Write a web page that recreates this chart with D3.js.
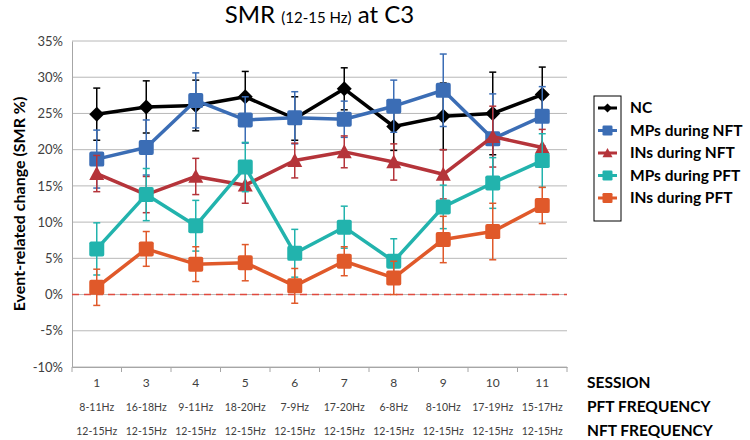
<!DOCTYPE html>
<html>
<head>
<meta charset="utf-8">
<script src="https://cdn.jsdelivr.net/npm/d3@7"></script>
<style>
  body { margin: 0; background: #fff; }
  svg { font-family: Lato, "Open Sans", sans-serif; }
</style>
</head>
<body>
<svg id="chart" width="750" height="440"></svg>
<script>
// data
const sessions = ["1", "3", "4", "5", "6", "7", "8", "9", "10", "11"];
const pftFreq = ["8-11Hz", "16-18Hz", "9-11Hz", "18-20Hz", "7-9Hz", "17-20Hz", "6-8Hz", "8-10Hz", "17-19Hz", "15-17Hz"];
const nftFreq = ["12-15Hz", "12-15Hz", "12-15Hz", "12-15Hz", "12-15Hz", "12-15Hz", "12-15Hz", "12-15Hz", "12-15Hz", "12-15Hz"];
const yTicks = [-10, -5, 0, 5, 10, 15, 20, 25, 30, 35];

const nc = [24.9, 25.9, 26.1, 27.3, 24.3, 28.4, 23.2, 24.6, 25.0, 27.6];
const ncErr = [3.6, 3.6, 3.5, 3.5, 3.0, 2.9, 3.3, 4.6, 5.7, 3.8];
const mpNft = [18.7, 20.3, 26.8, 24.1, 24.4, 24.2, 26.0, 28.2, 21.5, 24.6];
const mpNftErr = [4.0, 3.8, 3.8, 3.2, 3.6, 2.5, 3.6, 5.0, 6.2, 4.1];
const inNft = [16.7, 13.8, 16.3, 15.1, 18.5, 19.7, 18.3, 16.6, 21.8, 20.3];
const inNftErr = [2.5, 2.5, 2.5, 2.5, 2.4, 2.2, 2.5, 3.4, 4.2, 2.5];
const mpPft = [6.3, 13.8, 9.5, 17.6, 5.7, 9.3, 4.6, 12.1, 15.4, 18.5];
const mpPftErr = [3.6, 3.6, 3.5, 3.4, 3.3, 2.9, 3.1, 3.0, 3.5, 3.7];
const inPft = [1.0, 6.3, 4.2, 4.4, 1.2, 4.6, 2.3, 7.6, 8.7, 12.3];
const inPftErr = [2.5, 2.4, 2.4, 2.5, 2.4, 2.0, 2.3, 3.2, 3.9, 2.5];

const series = [
  { name: "NC", values: nc, err: ncErr, color: "#000000", shape: "diamond" },
  { name: "MPs during NFT", values: mpNft, err: mpNftErr, color: "#3b6db5", shape: "square" },
  { name: "INs during NFT", values: inNft, err: inNftErr, color: "#b5343a", shape: "triangle" },
  { name: "MPs during PFT", values: mpPft, err: mpPftErr, color: "#22b3ad", shape: "square" },
  { name: "INs during PFT", values: inPft, err: inPftErr, color: "#e0592a", shape: "square" }
];

const svg = d3.select("#chart");
const plotLeft = 72, plotRight = 567, plotTop = 41, plotBottom = 367;

const x = d3.scaleBand().domain(sessions).range([plotLeft, plotRight]);
const y = d3.scaleLinear().domain([-10, 35]).range([plotBottom, plotTop]);
const cx = (i) => x(sessions[i]) + x.bandwidth() / 2;

// gridlines
svg.append("g")
  .selectAll("line")
  .data(yTicks)
  .enter()
  .append("line")
  .attr("x1", plotLeft)
  .attr("x2", plotRight)
  .attr("y1", (d) => y(d))
  .attr("y2", (d) => y(d))
  .style("stroke", "#b8b8b8")
  .style("stroke-width", 1);

// y axis labels
const yAxis = svg.append("g").attr("transform", "translate(" + plotLeft + ",0)")
  .call(d3.axisLeft(y).tickValues(yTicks).tickSize(0).tickPadding(9).tickFormat((d) => d + "%"));
yAxis.select(".domain").style("stroke", "#a6a6a6");
yAxis.selectAll("text").style("font-size", "13px").style("fill", "#404040")
  .style("font-family", "Lato, sans-serif");

// x axis with ticks on category borders
const xAxis = svg.append("g").attr("transform", "translate(0," + plotBottom + ")")
  .call(d3.axisBottom(x).tickSize(0).tickFormat(""));
xAxis.select(".domain").style("stroke", "#a6a6a6");
svg.append("g")
  .selectAll("line")
  .data(sessions.concat(["end"]))
  .enter()
  .append("line")
  .attr("x1", (d, i) => plotLeft + i * x.bandwidth())
  .attr("x2", (d, i) => plotLeft + i * x.bandwidth())
  .attr("y1", plotBottom)
  .attr("y2", plotBottom + 5)
  .style("stroke", "#a6a6a6");

// zero reference line
svg.append("line")
  .attr("x1", plotLeft)
  .attr("x2", plotRight)
  .attr("y1", y(0))
  .attr("y2", y(0))
  .style("stroke", "#e04a3f")
  .style("stroke-width", 1.5)
  .style("stroke-dasharray", "7,5");

function drawMarker(g, shape, color, s) {
  if (shape === "diamond") {
    g.append("path")
      .attr("d", "M0," + -s + "L" + s + ",0L0," + s + "L" + -s + ",0Z")
      .style("fill", color);
  } else if (shape === "triangle") {
    g.append("path")
      .attr("d", "M0," + -s + "L" + s + "," + s * 0.85 + "L" + -s + "," + s * 0.85 + "Z")
      .style("fill", color);
  } else {
    g.append("rect")
      .attr("x", -s)
      .attr("y", -s)
      .attr("width", s * 2)
      .attr("height", s * 2)
      .attr("rx", s * 0.25)
      .style("fill", color);
  }
}

const line = d3.line().x((d, i) => cx(i)).y((d) => y(d));

series.forEach((s) => {
  const g = svg.append("g");
  // error bars
  const eb = g.append("g");
  s.values.forEach((v, i) => {
    const e = s.err[i];
    eb.append("line")
      .attr("x1", cx(i)).attr("x2", cx(i))
      .attr("y1", y(v - e)).attr("y2", y(v + e))
      .style("stroke", s.color).style("stroke-width", 1.5);
    [v - e, v + e].forEach((c) => {
      eb.append("line")
        .attr("x1", cx(i) - 3.5).attr("x2", cx(i) + 3.5)
        .attr("y1", y(c)).attr("y2", y(c))
        .style("stroke", s.color).style("stroke-width", 1.5);
    });
  });
  g.append("path")
    .datum(s.values)
    .attr("d", line)
    .style("fill", "none")
    .style("stroke", s.color)
    .style("stroke-width", 3.5)
    .style("stroke-linejoin", "round");
  s.values.forEach((v, i) => {
    const m = g.append("g").attr("transform", "translate(" + cx(i) + "," + y(v) + ")");
    drawMarker(m, s.shape, s.color, 7.5);
  });
});

// legend
const legend = svg.append("g");
legend.append("rect")
  .attr("x", 594).attr("y", 96).attr("width", 27).attr("height", 125)
  .style("fill", "none").style("stroke", "#000").style("stroke-width", 1);
series.forEach((s, i) => {
  const ly = 108 + i * 22.5;
  legend.append("line")
    .attr("x1", 598).attr("x2", 617).attr("y1", ly).attr("y2", ly)
    .style("stroke", s.color).style("stroke-width", 3);
  const m = legend.append("g").attr("transform", "translate(607.5," + ly + ")");
  drawMarker(m, s.shape, s.color, s.shape === "diamond" ? 4.5 : 5);
  legend.append("text")
    .attr("x", 630).attr("y", ly)
    .attr("dy", "0.35em")
    .text(s.name)
    .style("font-size", "15.5px")
    .style("font-weight", "bold")
    .style("fill", "#000");
});

// title
const title = svg.append("text")
  .attr("x", (plotLeft + plotRight) / 2)
  .attr("y", 23)
  .attr("text-anchor", "middle")
  .style("fill", "#000");
title.append("tspan").text("SMR ").style("font-size", "24px");
title.append("tspan").text("(12-15 Hz)").style("font-size", "15px");
title.append("tspan").text(" at C3").style("font-size", "24px");

// y axis title
svg.append("text")
  .attr("transform", "translate(19," + (plotTop + plotBottom) / 2 + ") rotate(-90)")
  .attr("text-anchor", "middle")
  .attr("dy", "0.35em")
  .text("Event-related change (SMR %)")
  .style("font-size", "16px")
  .style("font-weight", "bold")
  .style("fill", "#000");

// table under the axis
const rows = [
  { label: "SESSION", values: sessions, y: 383, size: "12px" },
  { label: "PFT FREQUENCY", values: pftFreq, y: 407, size: "10.5px" },
  { label: "NFT FREQUENCY", values: nftFreq, y: 431, size: "10.5px" }
];
rows.forEach((r) => {
  svg.append("g")
    .selectAll("text")
    .data(r.values)
    .enter()
    .append("text")
    .attr("x", (d, i) => cx(i))
    .attr("y", r.y)
    .attr("dy", "0.35em")
    .attr("text-anchor", "middle")
    .text((d) => d)
    .style("font-size", r.size)
    .style("fill", "#404040");
  svg.append("text")
    .attr("x", 587)
    .attr("y", r.y)
    .attr("dy", "0.35em")
    .text(r.label)
    .style("font-size", "15.5px")
    .style("font-weight", "bold")
    .style("fill", "#000");
});
</script>
</body>
</html>
